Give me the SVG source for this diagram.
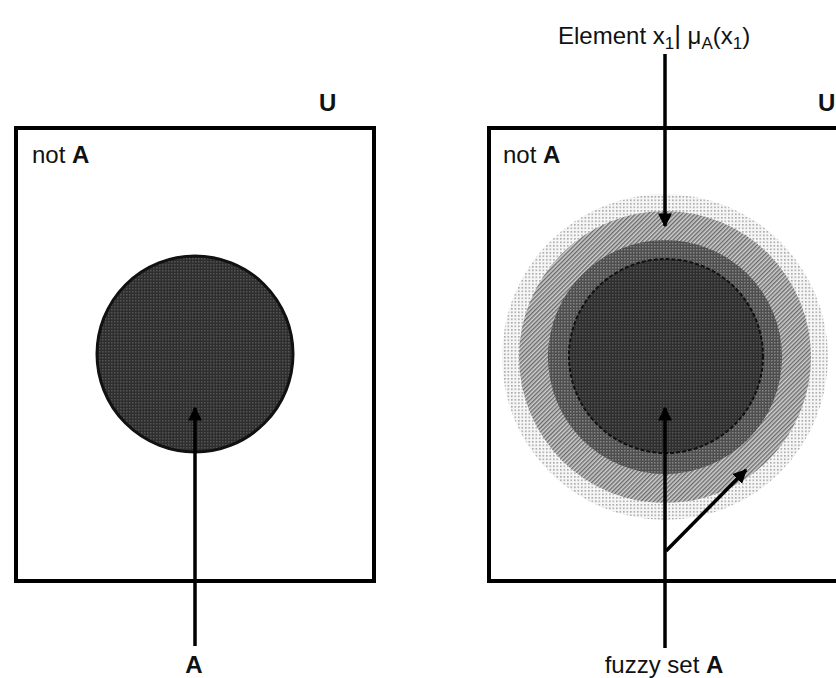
<svg xmlns="http://www.w3.org/2000/svg" width="836" height="678" viewBox="0 0 836 678">
<defs>
  <style>
    .lbl{font-family:"Liberation Sans",Arial,sans-serif;font-size:24px;fill:#111}
    .b{font-weight:bold}
    .box{fill:none;stroke:#000;stroke-width:4}
    .conn{stroke:#000;stroke-width:3.5;fill:none}
  </style>
  <pattern id="darkDots" width="3" height="3" patternUnits="userSpaceOnUse">
    <rect width="3" height="3" fill="#2e2e2e"/>
    <rect x="0" y="0" width="1.5" height="1.5" fill="#555"/>
  </pattern>
  <pattern id="midDots" width="3" height="3" patternUnits="userSpaceOnUse">
    <rect width="3" height="3" fill="#4e4e4e"/>
    <rect x="0" y="0" width="1.5" height="1.5" fill="#858585"/>
  </pattern>
  <pattern id="hatch" width="3" height="3" patternUnits="userSpaceOnUse" patternTransform="rotate(45)">
    <rect width="3" height="3" fill="#cfcfcf"/>
    <rect width="1.4" height="3" fill="#6a6a6a"/>
  </pattern>
  <pattern id="lightDots" width="3.5" height="3.5" patternUnits="userSpaceOnUse">
    <rect width="3.5" height="3.5" fill="#f6f6f6"/>
    <rect x="0" y="0" width="1.6" height="1.6" fill="#a8a8a8"/>
  </pattern>
  <marker id="arr" viewBox="0 0 10 10" refX="9" refY="5" markerWidth="4" markerHeight="4" orient="auto" markerUnits="strokeWidth">
    <path d="M0,0 L10,5 L0,10 z" fill="#000"/>
  </marker>
</defs>
<rect width="836" height="678" fill="#fff"/>

<g id="left-universe">
  <rect class="box" x="16" y="128" width="358" height="453"/>
  <text class="lbl b" x="319" y="111">U</text>
  <text class="lbl" x="32" y="163">not <tspan class="b">A</tspan></text>
</g>
<g id="left-set-A">
  <circle cx="195" cy="354" r="98" fill="url(#darkDots)" stroke="#111" stroke-width="3"/>
</g>
<g id="left-label-A">
  <text class="lbl b" x="194" y="673" text-anchor="middle">A</text>
</g>

<g id="right-universe">
  <rect class="box" x="489" y="128" width="380" height="453"/>
  <text class="lbl b" x="818" y="111">U</text>
  <text class="lbl" x="503" y="163">not <tspan class="b">A</tspan></text>
</g>
<g id="fuzzy-set-A">
  <circle cx="665" cy="357" r="163" fill="url(#lightDots)"/>
  <circle cx="665" cy="357" r="146" fill="url(#hatch)"/>
  <circle cx="665" cy="357" r="117" fill="url(#midDots)"/>
  <circle cx="666" cy="356" r="97" fill="url(#darkDots)" stroke="#111" stroke-width="2" stroke-dasharray="4 2"/>
</g>
<g id="element-label">
  <text class="lbl" x="558" y="44">Element x<tspan font-size="17" dy="5">1</tspan><tspan dy="-5" font-size="26">|</tspan> μ<tspan font-size="17" dy="5">A</tspan><tspan dy="-5">(x</tspan><tspan font-size="17" dy="5">1</tspan><tspan dy="-5">)</tspan></text>
</g>
<g id="fuzzy-label">
  <text class="lbl" x="664" y="673" text-anchor="middle">fuzzy set <tspan class="b">A</tspan></text>
</g>

<g id="connectors">
  <line class="conn" x1="195" y1="646" x2="195" y2="408" marker-end="url(#arr)"/>
  <line class="conn" x1="665" y1="54" x2="665" y2="226" stroke-width="2.5" marker-end="url(#arr)"/>
  <line class="conn" x1="665" y1="648" x2="665" y2="408" marker-end="url(#arr)"/>
  <line class="conn" x1="666" y1="551" x2="746" y2="470" marker-end="url(#arr)"/>
</g>
</svg>
